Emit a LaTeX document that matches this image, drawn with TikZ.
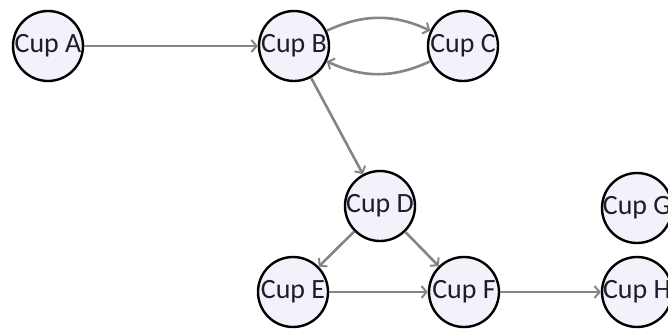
\documentclass[tikz,border=0pt]{standalone}
\usepackage{fontspec}
\setmainfont{Carlito}
\usetikzlibrary{arrows.meta}
\definecolor{cupfill}{HTML}{F2F2FB}
\definecolor{cuptext}{HTML}{1E1E2A}
\definecolor{edgegray}{HTML}{858585}
\begin{document}
\begin{tikzpicture}[x=1bp,y=-1bp,
  cup/.style={circle,draw=black,line width=2.4bp,fill=cupfill,minimum size=70bp,inner sep=-12bp,
    font=\fontsize{28}{30}\selectfont,text=cuptext},
  link/.style={draw=edgegray,line width=2.6bp,-{Straight Barb[length=5bp,width=12bp,line width=2bp]}}]
\useasboundingbox (0,0) rectangle (668,329);
\node[cup] (A) at (48,46) {Cup A};
\node[cup] (B) at (294,46) {Cup B};
\node[cup] (C) at (463,46) {Cup C};
\node[cup] (D) at (380,206) {Cup D};
\node[cup] (G) at (637,208) {Cup G};
\node[cup] (E) at (293,292) {Cup E};
\node[cup] (F) at (464,292) {Cup F};
\node[cup] (H) at (637,292) {Cup H};
\draw[link] (A) -- (B);
\draw[link] (B) to[bend left=25] (C);
\draw[link] (C) to[bend left=25] (B);
\draw[link] (B) -- (D);
\draw[link] (D) -- (E);
\draw[link] (D) -- (F);
\draw[link] (E) -- (F);
\draw[link] (F) -- (H);
\end{tikzpicture}
\end{document}
